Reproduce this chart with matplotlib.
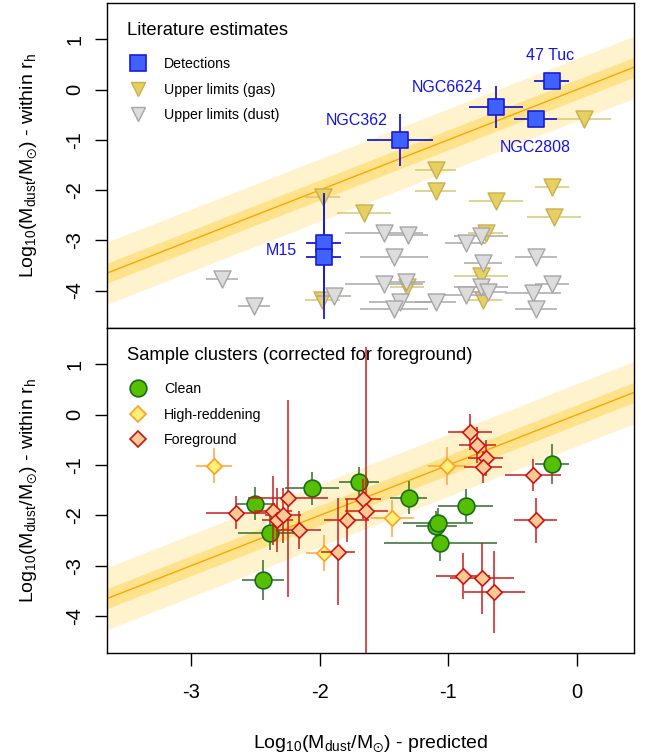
import numpy as np
import matplotlib
matplotlib.use("Agg")
import matplotlib.pyplot as plt
from matplotlib.lines import Line2D

plt.rcParams["font.family"] = ["Liberation Sans", "DejaVu Sans"]
plt.rcParams["mathtext.fontset"] = "custom"
plt.rcParams["mathtext.rm"] = "Liberation Sans"
plt.rcParams["mathtext.it"] = "Liberation Sans:italic"
plt.rcParams["mathtext.bf"] = "Liberation Sans:bold"
plt.rcParams["mathtext.fallback"] = "stixsans"

# ---- one-to-one relation with scatter bands ----
rel_slope = 1.0
rel_intercept = 0.0
band_inner = 0.2
band_outer = 0.62

# ---- literature: detections ----
det_names = ["47 Tuc", "NGC6624", "NGC2808", "NGC362", "M15", "M15"]
det_x = [-0.197, -0.63, -0.32, -1.375, -1.969, -1.969]
det_y = [0.165, -0.346, -0.59, -1.008, -3.05, -3.33]
det_xerr = [0.135, 0.21, 0.167, 0.26, 0.136, 0.136]
det_yerr = [0.0, 0.42, 0.0, 0.52, 1.0, 1.24]

# ---- literature: upper limits from gas ----
gas_x = [-1.974, -1.655, -1.097, -1.097, -0.63, -0.197, -0.177, 0.057,
         -0.708, -0.747, -0.73, -1.979, -1.32]
gas_y = [-2.135, -2.45, -1.60, -2.02, -2.21, -1.94, -2.53, -0.59,
         -2.86, -3.71, -4.19, -4.19, -3.93]
gas_xerr = [0.136, 0.21, 0.16, 0.16, 0.21, 0.132, 0.21, 0.21,
            0.136, 0.21, 0.145, 0.136, 0.13]

# ---- literature: upper limits from dust ----
dust_x = [-2.76, -2.51, -1.889, -1.50, -1.31, -1.42, -1.50, -1.33, -1.377,
          -1.42, -1.097, -0.747, -0.866, -0.73, -0.319, -0.747, -0.695,
          -0.866, -0.34, -0.197, -0.319]
dust_y = [-3.78, -4.31, -4.11, -2.85, -2.90, -3.33, -3.87, -3.83, -4.22,
          -4.36, -4.22, -2.92, -3.05, -3.46, -3.33, -3.92, -4.02,
          -4.08, -4.04, -3.86, -4.37]
dust_xerr = [0.125, 0.125, 0.132, 0.30, 0.15, 0.265, 0.30, 0.15, 0.24,
             0.265, 0.16, 0.21, 0.16, 0.148, 0.165, 0.21, 0.15,
             0.16, 0.22, 0.132, 0.165]

# ---- sample clusters: clean ----
clean_x = [-2.50, -2.389, -2.44, -2.06, -1.696, -1.307, -0.866, -1.092,
           -1.079, -1.061, -0.197]
clean_y = [-1.77, -2.34, -3.29, -1.46, -1.33, -1.65, -1.81, -2.21,
           -2.15, -2.54, -0.98]
clean_xerr = [0.15, 0.245, 0.166, 0.21, 0.155, 0.143, 0.21, 0.16,
              0.27, 0.44, 0.132]
clean_yerr = [0.33, 0.34, 0.40, 0.33, 0.30, 0.33, 0.33, 0.30,
              0.30, 0.37, 0.40]

# ---- sample clusters: high reddening ----
hr_x = [-2.82, -1.969, -1.434, -1.009]
hr_y = [-1.01, -2.74, -2.06, -1.016]
hr_xerr = [0.14, 0.14, 0.166, 0.15]
hr_yerr = [0.35, 0.36, 0.37, 0.38]

# ---- sample clusters: foreground contaminated ----
fg_x = [-2.65, -2.247, -2.363, -2.33, -2.284, -2.163, -1.857, -1.79,
        -1.663, -1.636, -0.833, -0.773, -0.708, -0.73, -0.34, -0.319,
        -0.885, -0.737, -0.643]
fg_y = [-1.946, -1.66, -1.906, -2.09, -2.0, -2.29, -2.72, -2.1,
        -1.68, -1.906, -0.345, -0.60, -0.863, -1.04, -1.195, -2.10,
        -3.20, -3.25, -3.52]
fg_xerr = [0.236, 0.31, 0.15, 0.12, 0.14, 0.175, 0.13, 0.176,
           0.14, 0.17, 0.17, 0.145, 0.135, 0.15, 0.22, 0.167,
           0.21, 0.25, 0.236]
fg_yerr = [0.33, 1.96, 0.68, 0.63, 0.55, 0.38, 1.06, 0.43,
           0.40, 3.25, 0.36, 0.35, 0.36, 0.32, 0.32, 0.44,
           0.46, 0.70, 0.82]

x_ticks = [-3, -2, -1, 0]
y_ticks = [-4, -3, -2, -1, 0, 1]
x_lim = (-3.651, 0.446)
y_lim = (-4.74, 1.73)

# label offsets (data units) for the named detections
label_dx = [-0.013, -0.38, -0.005, -0.335, -0.33]
label_dy = [0.515, 0.39, -0.57, 0.40, -0.02]

BLUE_FACE, BLUE_EDGE = "#3f62ff", "#1a1ad8"
GAS_FACE, GAS_EDGE, GAS_BAR = "#e6cf63", "#c9b04a", "#d9c674"
DUST_FACE, DUST_EDGE, DUST_BAR = "#dcdcdc", "#a6a6a6", "#a8a8a8"
GREEN_FACE, GREEN_EDGE, GREEN_BAR = "#55c000", "#1c6a1c", "#2f6e2f"
HR_FACE, HR_EDGE, HR_BAR = "#fff079", "#ffa024", "#ffa53a"
FG_FACE, FG_EDGE, FG_BAR = "#ffc994", "#cc1414", "#cc1c1c"
LINE_C, BAND_IN, BAND_OUT = "#ffa500", "#ffe38c", "#fff3cd"

YLABEL = r"Log$_{\mathregular{10}}$(M$_{\mathregular{dust}}$/M$_{\odot}$) - within r$_{\mathregular{h}}$"
XLABEL = r"Log$_{\mathregular{10}}$(M$_{\mathregular{dust}}$/M$_{\odot}$) - predicted"

fig = plt.figure(figsize=(6.51, 7.53), dpi=100)
ax_top = fig.add_axes([0.1648, 0.5648, 0.8095, 0.4316])
ax_bot = fig.add_axes([0.1648, 0.1324, 0.8095, 0.4324])


def relation(ax):
    xs = np.array(x_lim)
    ys = rel_slope * xs + rel_intercept
    ax.fill_between(xs, ys - band_outer, ys + band_outer, color=BAND_OUT, lw=0, zorder=1)
    ax.fill_between(xs, ys - band_inner, ys + band_inner, color=BAND_IN, lw=0, zorder=1.1)
    ax.plot(xs, ys, color=LINE_C, lw=1.0, zorder=1.2)


def style(ax, show_x):
    ax.set_xlim(*x_lim)
    ax.set_ylim(*y_lim)
    ax.set_xticks(x_ticks)
    ax.set_yticks(y_ticks)
    ax.set_yticklabels([str(v) for v in y_ticks], rotation=90, va="center")
    ax.tick_params(direction="out", length=9, width=1, labelsize=14.5)
    ax.tick_params(axis="y", pad=7.5)
    ax.tick_params(axis="x", pad=12.5)
    if show_x:
        ax.set_xticklabels([str(v) for v in x_ticks])
    else:
        ax.tick_params(axis="x", bottom=False, labelbottom=False)
    for s in ax.spines.values():
        s.set_linewidth(1.0)
    ax.set_ylabel(YLABEL, fontsize=14, labelpad=19)


def key(ax, handles, labels, title):
    ax.text(0.0374, 0.916, title, transform=ax.transAxes, fontsize=13.2,
            ha="left", va="center", zorder=6)
    ax.legend(handles, labels, loc="upper left", bbox_to_anchor=(0.0351, 0.832),
              frameon=False, fontsize=10.2, handlelength=1.7, handletextpad=1.0,
              labelspacing=0.8, borderaxespad=0.0, borderpad=0.0)


ebkw = dict(fmt="none", capsize=0, elinewidth=1.1)

# ---------------- top panel ----------------
relation(ax_top)
ax_top.errorbar(gas_x, gas_y, xerr=gas_xerr, ecolor=GAS_BAR, zorder=2, **ebkw)
ax_top.scatter(gas_x, gas_y, marker="v", s=150, facecolor=GAS_FACE, edgecolor=GAS_EDGE,
               linewidths=1.0, zorder=2.1)
ax_top.errorbar(dust_x, dust_y, xerr=dust_xerr, ecolor=DUST_BAR, zorder=3, **ebkw)
ax_top.scatter(dust_x, dust_y, marker="v", s=150, facecolor=DUST_FACE, edgecolor=DUST_EDGE,
               linewidths=1.0, zorder=3.1)
ax_top.errorbar(det_x, det_y, xerr=det_xerr, yerr=det_yerr, ecolor=BLUE_EDGE, fmt="none",
                capsize=0, elinewidth=1.3, zorder=4)
ax_top.scatter(det_x, det_y, marker="s", s=125, facecolor=BLUE_FACE, edgecolor=BLUE_EDGE,
               linewidths=1.2, zorder=4.1)

seen = set()
k = 0
for name, x, y in zip(det_names, det_x, det_y):
    if name in seen:
        continue
    seen.add(name)
    if name == "M15":
        y = np.mean([yy for nn, yy in zip(det_names, det_y) if nn == "M15"])
    ax_top.text(x + label_dx[k], y + label_dy[k], name, color="#1414e6", fontsize=11.5,
                ha="center", va="center", zorder=5)
    k += 1

h_top = [
    Line2D([], [], ls="none", marker="s", ms=11.5, mfc=BLUE_FACE, mec=BLUE_EDGE, mew=1.2),
    Line2D([], [], ls="none", marker="v", ms=10.5, mfc=GAS_FACE, mec=GAS_EDGE, mew=1.0),
    Line2D([], [], ls="none", marker="v", ms=10.5, mfc=DUST_FACE, mec=DUST_EDGE, mew=1.0),
]
key(ax_top, h_top, ["Detections", "Upper limits (gas)", "Upper limits (dust)"],
    "Literature estimates")
style(ax_top, show_x=False)

# ---------------- bottom panel ----------------
relation(ax_bot)
ax_bot.errorbar(clean_x, clean_y, xerr=clean_xerr, yerr=clean_yerr, ecolor=GREEN_BAR, zorder=2, **ebkw)
ax_bot.scatter(clean_x, clean_y, marker="o", s=145, facecolor=GREEN_FACE, edgecolor=GREEN_EDGE,
               linewidths=1.2, zorder=2.1)
ax_bot.errorbar(hr_x, hr_y, xerr=hr_xerr, yerr=hr_yerr, ecolor=HR_BAR, zorder=3, **ebkw)
ax_bot.scatter(hr_x, hr_y, marker="D", s=62, facecolor=HR_FACE, edgecolor=HR_EDGE,
               linewidths=1.2, zorder=3.1)
ax_bot.errorbar(fg_x, fg_y, xerr=fg_xerr, yerr=fg_yerr, ecolor=FG_BAR, zorder=4, **ebkw)
ax_bot.scatter(fg_x, fg_y, marker="D", s=62, facecolor=FG_FACE, edgecolor=FG_EDGE,
               linewidths=1.2, zorder=4.1)

h_bot = [
    Line2D([], [], ls="none", marker="o", ms=12, mfc=GREEN_FACE, mec=GREEN_EDGE, mew=1.2),
    Line2D([], [], ls="none", marker="D", ms=8.2, mfc=HR_FACE, mec=HR_EDGE, mew=1.2),
    Line2D([], [], ls="none", marker="D", ms=8.2, mfc=FG_FACE, mec=FG_EDGE, mew=1.2),
]
key(ax_bot, h_bot, ["Clean", "High-reddening", "Foreground"],
    "Sample clusters (corrected for foreground)")
style(ax_bot, show_x=True)
ax_bot.set_xlabel(XLABEL, fontsize=14, labelpad=22.5)

fig.savefig("out.png", dpi=100)
